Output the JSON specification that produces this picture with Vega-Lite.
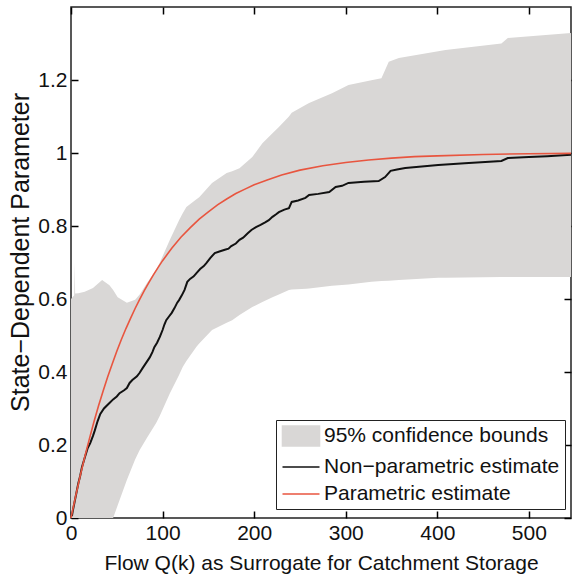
{
  "$schema": "https://vega.github.io/schema/vega-lite/v6.json",
  "width": 500,
  "height": 511,
  "autosize": {"type": "none"},
  "padding": {"left": 71, "top": 7, "right": 1, "bottom": 56},
  "background": "white",
  "config": {
    "view": {"stroke": "#222", "strokeWidth": 1.5},
    "font": "Liberation Sans",
    "axis": {
      "domain": false,
      "grid": false,
      "ticks": true,
      "zindex": 1,
      "labelFlush": false,
      "tickColor": "#000000",
      "tickOpacity": 1,
      "tickSize": -7,
      "tickWidth": 1.5,
      "labelFont": "Liberation Sans",
      "labelFontSize": 21,
      "labelColor": "#111",
      "titleFont": "Liberation Sans",
      "titleFontWeight": "normal",
      "titleColor": "#111"
    },
    "legend": {
      "orient": "none",
      "legendX": 205,
      "legendY": 413,
      "strokeColor": "#222",
      "fillColor": "white",
      "padding": 5,
      "cornerRadius": 0,
      "labelFont": "Liberation Sans",
      "labelFontSize": 21,
      "labelColor": "#111",
      "labelLimit": 0,
      "rowPadding": 6,
      "symbolSize": 400,
      "symbolOffset": 9,
      "labelOffset": 12,
      "symbolStrokeWidth": 1.6,
      "zindex": 2
    }
  },
  "datasets": {
    "band": [
      {"Q": 0, "lo": 0, "hi": 0.6},
      {"Q": 3.5, "lo": 0, "hi": 0.61},
      {"Q": 4, "lo": 0, "hi": 0.7},
      {"Q": 4.5, "lo": 0, "hi": 0.615},
      {"Q": 8, "lo": 0, "hi": 0.616},
      {"Q": 15, "lo": 0, "hi": 0.62},
      {"Q": 24, "lo": 0, "hi": 0.63},
      {"Q": 34, "lo": 0, "hi": 0.652},
      {"Q": 42, "lo": 0, "hi": 0.638},
      {"Q": 46, "lo": 0, "hi": 0.625},
      {"Q": 51, "lo": 0.035, "hi": 0.605},
      {"Q": 61, "lo": 0.104, "hi": 0.59},
      {"Q": 70, "lo": 0.16, "hi": 0.598},
      {"Q": 75, "lo": 0.186, "hi": 0.612},
      {"Q": 83, "lo": 0.22, "hi": 0.644},
      {"Q": 93, "lo": 0.26, "hi": 0.68},
      {"Q": 97, "lo": 0.28, "hi": 0.7},
      {"Q": 108, "lo": 0.342, "hi": 0.762},
      {"Q": 118, "lo": 0.392, "hi": 0.816},
      {"Q": 122, "lo": 0.414, "hi": 0.835},
      {"Q": 126, "lo": 0.43, "hi": 0.852},
      {"Q": 137, "lo": 0.469, "hi": 0.873},
      {"Q": 140, "lo": 0.478, "hi": 0.879},
      {"Q": 154, "lo": 0.515, "hi": 0.918},
      {"Q": 170, "lo": 0.535, "hi": 0.945},
      {"Q": 176, "lo": 0.542, "hi": 0.95},
      {"Q": 184, "lo": 0.556, "hi": 0.958},
      {"Q": 198, "lo": 0.578, "hi": 0.989},
      {"Q": 209, "lo": 0.592, "hi": 1.027},
      {"Q": 220, "lo": 0.605, "hi": 1.054},
      {"Q": 227, "lo": 0.612, "hi": 1.071},
      {"Q": 238, "lo": 0.625, "hi": 1.1},
      {"Q": 241, "lo": 0.626, "hi": 1.11},
      {"Q": 257, "lo": 0.628, "hi": 1.133},
      {"Q": 260, "lo": 0.629, "hi": 1.137},
      {"Q": 285, "lo": 0.636, "hi": 1.164},
      {"Q": 303, "lo": 0.64, "hi": 1.186},
      {"Q": 328, "lo": 0.647, "hi": 1.199},
      {"Q": 339, "lo": 0.649, "hi": 1.205},
      {"Q": 347, "lo": 0.65, "hi": 1.25},
      {"Q": 358, "lo": 0.652, "hi": 1.26},
      {"Q": 401, "lo": 0.658, "hi": 1.279},
      {"Q": 409, "lo": 0.658, "hi": 1.282},
      {"Q": 470, "lo": 0.66, "hi": 1.3},
      {"Q": 477, "lo": 0.66, "hi": 1.315},
      {"Q": 546, "lo": 0.66, "hi": 1.329}
    ],
    "np": [
      {"Q": 1, "v": 0.005}, {"Q": 2, "v": 0.02}, {"Q": 4, "v": 0.045}, {"Q": 6, "v": 0.07},
      {"Q": 8, "v": 0.095}, {"Q": 10, "v": 0.115}, {"Q": 12, "v": 0.14}, {"Q": 15, "v": 0.165},
      {"Q": 18, "v": 0.19}, {"Q": 21, "v": 0.205}, {"Q": 24, "v": 0.225}, {"Q": 26, "v": 0.24},
      {"Q": 29, "v": 0.265}, {"Q": 32, "v": 0.285}, {"Q": 36, "v": 0.3}, {"Q": 42, "v": 0.315},
      {"Q": 46, "v": 0.325}, {"Q": 50, "v": 0.333}, {"Q": 53, "v": 0.342}, {"Q": 58, "v": 0.35},
      {"Q": 61, "v": 0.356}, {"Q": 64, "v": 0.37}, {"Q": 67, "v": 0.378}, {"Q": 72, "v": 0.388},
      {"Q": 75, "v": 0.398}, {"Q": 78, "v": 0.41}, {"Q": 82, "v": 0.425}, {"Q": 86, "v": 0.44},
      {"Q": 89, "v": 0.455}, {"Q": 91, "v": 0.468}, {"Q": 94, "v": 0.48}, {"Q": 97, "v": 0.496},
      {"Q": 100, "v": 0.515}, {"Q": 102, "v": 0.53}, {"Q": 104, "v": 0.542}, {"Q": 107, "v": 0.552},
      {"Q": 110, "v": 0.562}, {"Q": 113, "v": 0.575}, {"Q": 116, "v": 0.59}, {"Q": 118, "v": 0.597},
      {"Q": 121, "v": 0.61}, {"Q": 124, "v": 0.625}, {"Q": 127, "v": 0.647}, {"Q": 130, "v": 0.655},
      {"Q": 134, "v": 0.662}, {"Q": 137, "v": 0.671}, {"Q": 141, "v": 0.682}, {"Q": 145, "v": 0.69},
      {"Q": 148, "v": 0.699}, {"Q": 152, "v": 0.712}, {"Q": 157, "v": 0.726}, {"Q": 162, "v": 0.73},
      {"Q": 168, "v": 0.735}, {"Q": 172, "v": 0.738}, {"Q": 175, "v": 0.745}, {"Q": 180, "v": 0.752},
      {"Q": 184, "v": 0.762}, {"Q": 188, "v": 0.768}, {"Q": 193, "v": 0.78}, {"Q": 197, "v": 0.789},
      {"Q": 202, "v": 0.797}, {"Q": 207, "v": 0.803}, {"Q": 212, "v": 0.81}, {"Q": 216, "v": 0.816},
      {"Q": 220, "v": 0.825}, {"Q": 224, "v": 0.832}, {"Q": 227, "v": 0.838}, {"Q": 233, "v": 0.845},
      {"Q": 238, "v": 0.849}, {"Q": 241, "v": 0.866}, {"Q": 248, "v": 0.87}, {"Q": 256, "v": 0.877},
      {"Q": 260, "v": 0.885}, {"Q": 270, "v": 0.888}, {"Q": 282, "v": 0.893}, {"Q": 289, "v": 0.907},
      {"Q": 296, "v": 0.91}, {"Q": 303, "v": 0.918}, {"Q": 320, "v": 0.921}, {"Q": 336, "v": 0.923},
      {"Q": 343, "v": 0.934}, {"Q": 349, "v": 0.951}, {"Q": 356, "v": 0.955}, {"Q": 365, "v": 0.959},
      {"Q": 380, "v": 0.962}, {"Q": 401, "v": 0.967}, {"Q": 430, "v": 0.972}, {"Q": 470, "v": 0.978},
      {"Q": 477, "v": 0.986}, {"Q": 500, "v": 0.989}, {"Q": 520, "v": 0.991}, {"Q": 546, "v": 0.995}
    ],
    "par": [
      {"Q": 0, "v": 0}, {"Q": 5, "v": 0.059}, {"Q": 10, "v": 0.115}, {"Q": 15, "v": 0.167},
      {"Q": 20, "v": 0.216}, {"Q": 25, "v": 0.263}, {"Q": 30, "v": 0.307}, {"Q": 35, "v": 0.347},
      {"Q": 40, "v": 0.386}, {"Q": 45, "v": 0.422}, {"Q": 50, "v": 0.457}, {"Q": 55, "v": 0.489},
      {"Q": 60, "v": 0.519}, {"Q": 65, "v": 0.547}, {"Q": 70, "v": 0.574}, {"Q": 75, "v": 0.599},
      {"Q": 80, "v": 0.623}, {"Q": 85, "v": 0.645}, {"Q": 90, "v": 0.666}, {"Q": 95, "v": 0.686},
      {"Q": 100, "v": 0.705}, {"Q": 110, "v": 0.739}, {"Q": 120, "v": 0.769}, {"Q": 130, "v": 0.795},
      {"Q": 140, "v": 0.819}, {"Q": 150, "v": 0.839}, {"Q": 160, "v": 0.858}, {"Q": 170, "v": 0.874},
      {"Q": 180, "v": 0.889}, {"Q": 190, "v": 0.901}, {"Q": 200, "v": 0.913}, {"Q": 215, "v": 0.927},
      {"Q": 230, "v": 0.94}, {"Q": 250, "v": 0.953}, {"Q": 275, "v": 0.965}, {"Q": 300, "v": 0.974},
      {"Q": 325, "v": 0.981}, {"Q": 350, "v": 0.986}, {"Q": 375, "v": 0.99}, {"Q": 400, "v": 0.992},
      {"Q": 450, "v": 0.996}, {"Q": 500, "v": 0.998}, {"Q": 546, "v": 0.999}
    ]
  },
  "layer": [
    {
      "data": {"name": "band"},
      "mark": {"type": "area", "opacity": 1, "interpolate": "linear"},
      "encoding": {
        "x": {
          "field": "Q", "type": "quantitative",
          "scale": {"domain": [0, 546], "nice": false, "zero": false},
          "axis": {
            "values": [0, 100, 200, 300, 400, 500],
            "title": "Flow Q(k) as Surrogate for Catchment Storage",
            "titleFontSize": 21,
            "labelPadding": 11,
            "titlePadding": 9
          }
        },
        "y": {
          "field": "hi", "type": "quantitative",
          "scale": {"domain": [0, 1.4], "nice": false},
          "axis": {
            "values": [0, 0.2, 0.4, 0.6, 0.8, 1, 1.2],
            "format": "~g",
            "title": "State\u2212Dependent Parameter",
            "titleFontSize": 25,
            "titleY": 245,
            "labelPadding": 11,
            "titlePadding": 4
          }
        },
        "y2": {"field": "lo"},
        "color": {
          "datum": "95% confidence bounds",
          "type": "nominal",
          "scale": {
            "domain": ["95% confidence bounds", "Non\u2212parametric estimate", "Parametric estimate"],
            "range": ["#d9d7d6", "#111111", "#e8553f"]
          },
          "legend": {
            "title": null,
            "encode": {
              "symbols": {
                "update": {
                  "shape": {"signal": "datum.value === '95% confidence bounds' ? 'M-1.85,-1H1.85V1H-1.85Z' : 'M-1.85,0H1.85'"},
                  "fill": {"signal": "datum.value === '95% confidence bounds' ? '#d9d7d6' : 'transparent'"},
                  "stroke": {"signal": "datum.value === '95% confidence bounds' ? 'transparent' : (datum.value === 'Parametric estimate' ? '#e8553f' : '#111111')"},
                  "strokeWidth": {"value": 1.6},
                  "opacity": {"value": 1}
                }
              }
            }
          }
        }
      }
    },
    {
      "data": {"name": "np"},
      "mark": {"type": "line", "strokeWidth": 2},
      "encoding": {
        "x": {"field": "Q", "type": "quantitative", "axis": null},
        "y": {"field": "v", "type": "quantitative", "axis": null},
        "color": {
          "datum": "Non\u2212parametric estimate", "type": "nominal",
          "legend": {
            "title": null,
            "encode": {
              "symbols": {
                "update": {
                  "shape": {"signal": "datum.value === '95% confidence bounds' ? 'M-1.85,-1H1.85V1H-1.85Z' : 'M-1.85,0H1.85'"},
                  "fill": {"signal": "datum.value === '95% confidence bounds' ? '#d9d7d6' : 'transparent'"},
                  "stroke": {"signal": "datum.value === '95% confidence bounds' ? 'transparent' : (datum.value === 'Parametric estimate' ? '#e8553f' : '#111111')"},
                  "strokeWidth": {"value": 1.6},
                  "opacity": {"value": 1}
                }
              }
            }
          }
        }
      }
    },
    {
      "data": {"name": "par"},
      "mark": {"type": "line", "strokeWidth": 1.6},
      "encoding": {
        "x": {"field": "Q", "type": "quantitative", "axis": null},
        "y": {"field": "v", "type": "quantitative", "axis": null},
        "color": {
          "datum": "Parametric estimate", "type": "nominal",
          "legend": {
            "title": null,
            "encode": {
              "symbols": {
                "update": {
                  "shape": {"signal": "datum.value === '95% confidence bounds' ? 'M-1.85,-1H1.85V1H-1.85Z' : 'M-1.85,0H1.85'"},
                  "fill": {"signal": "datum.value === '95% confidence bounds' ? '#d9d7d6' : 'transparent'"},
                  "stroke": {"signal": "datum.value === '95% confidence bounds' ? 'transparent' : (datum.value === 'Parametric estimate' ? '#e8553f' : '#111111')"},
                  "strokeWidth": {"value": 1.6},
                  "opacity": {"value": 1}
                }
              }
            }
          }
        }
      }
    },
    {
      "data": {"name": "par"},
      "mark": {"type": "point", "opacity": 0},
      "encoding": {
        "x": {"field": "Q", "type": "quantitative",
          "axis": {"orient": "top", "values": [0, 100, 200, 300, 400, 500], "labels": false, "title": null}},
        "y": {"field": "v", "type": "quantitative",
          "axis": {"orient": "right", "values": [0, 0.2, 0.4, 0.6, 0.8, 1, 1.2], "labels": false, "title": null}}
      }
    }
  ],
  "resolve": {"axis": {"x": "independent", "y": "independent"}}
}
